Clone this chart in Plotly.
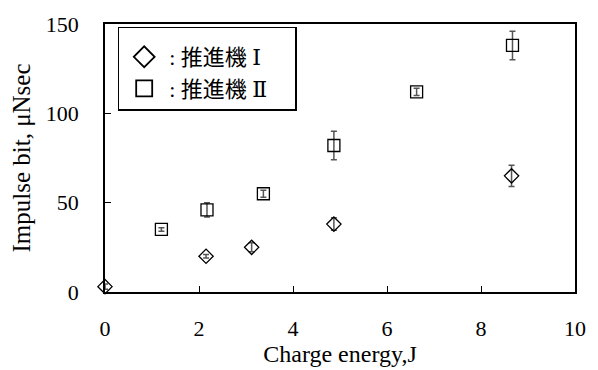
import plotly.graph_objects as go

x1 = [0.0, 2.15, 3.12, 4.87, 8.65]
y1 = [3, 20, 25, 38, 65]
e1 = [1.5, 1, 2.5, 3.5, 6]

x2 = [1.2, 2.17, 3.37, 4.87, 6.63, 8.67]
y2 = [35, 46, 55, 82, 112, 138]
e2 = [1, 4, 2, 8, 2, 8]

roman = "<span style='font-family:\"DejaVu Serif\"'>%s</span>"
pad = "&nbsp;&nbsp;&nbsp;&nbsp;"
name1 = ": 推進機 " + roman % "Ⅰ" + pad
name2 = ": 推進機 " + roman % "Ⅱ" + pad

serif = "'Liberation Serif', 'Noto Sans CJK JP', serif"
K = "black"

fig = go.Figure()
fig.add_trace(go.Scatter(
    x=x1, y=y1, mode="markers", name=name1, showlegend=False, cliponaxis=False,
    marker=dict(symbol="diamond-open", size=11, color=K, line=dict(width=1.3, color=K)),
    error_y=dict(type="data", array=e1, color="#555555", thickness=1.5, width=3),
))
fig.add_trace(go.Scatter(
    x=x2, y=y2, mode="markers", name=name2, showlegend=False, cliponaxis=False,
    marker=dict(symbol="square-open", size=12, color=K, line=dict(width=1.3, color=K)),
    error_y=dict(type="data", array=e2, color="#555555", thickness=1.5, width=3),
))
# legend entries (larger symbols, as in the reference)
fig.add_trace(go.Scatter(
    x=[None], y=[None], mode="markers", name=name1, legendgroup="a",
    marker=dict(symbol="diamond-open", size=16, color=K, line=dict(width=1.8, color=K)),
))
fig.add_trace(go.Scatter(
    x=[None], y=[None], mode="markers", name=name2, legendgroup="b",
    marker=dict(symbol="square-open", size=16, color=K, line=dict(width=1.8, color=K)),
))

fig.update_layout(
    width=598, height=370,
    margin=dict(l=105, r=13, t=17, b=77),
    paper_bgcolor="white", plot_bgcolor="white",
    font=dict(family=serif, size=22, color=K),
    showlegend=True,
    legend=dict(x=0.027, y=0.99, xanchor="left", yanchor="top",
                bordercolor=K, borderwidth=1.5, bgcolor="white",
                font=dict(family=serif, size=22, color=K),
                title=dict(text=" ", font=dict(size=6)),
                tracegroupgap=0, itemwidth=40),
    xaxis=dict(range=[0, 10], dtick=2, showgrid=False, zeroline=False,
               showline=True, linecolor=K, linewidth=1.5, mirror=True,
               ticks="inside", ticklen=6, tickcolor=K,
               ticklabelstandoff=16,
               tickfont=dict(family=serif, size=22, color=K),
               title=dict(text="Charge energy,J", standoff=0,
                          font=dict(family=serif, size=24, color=K))),
    yaxis=dict(range=[0, 150], dtick=50, showgrid=False, zeroline=False,
               showline=True, linecolor=K, linewidth=1.5, mirror=True,
               ticks="inside", ticklen=6, tickcolor=K,
               ticklabelstandoff=20,
               tickfont=dict(family=serif, size=22, color=K),
               title=dict(text="Impulse bit, μNsec", standoff=8,
                          font=dict(family=serif, size=25, color=K))),
)

fig.write_html("out.html")
